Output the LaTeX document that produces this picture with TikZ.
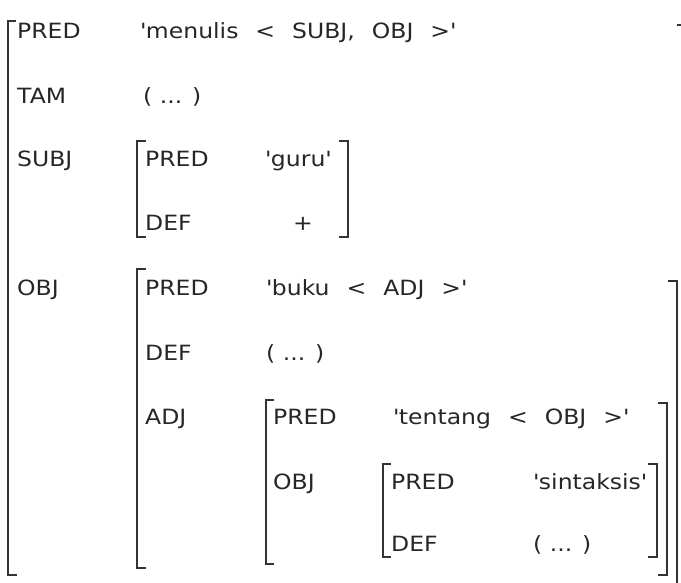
\documentclass[tikz,border=0pt]{standalone}
\usepackage{fontspec}
\setmainfont{DejaVu Sans}[FakeStretch=1.12]
\usepackage{tikz}
\usetikzlibrary{positioning,calc}

\tikzset{
  feat/.style={anchor=base west, inner sep=0pt, text=black!85, font=\fontsize{21}{25}\selectfont},
  brk/.style={draw=black!80, line width=1.5pt},
}
\newcommand{\gp}{\hspace{17pt}}
\newcommand{\qt}{\textquotesingle}

\begin{document}
\begin{tikzpicture}[x=1pt,y=-1pt]
    \useasboundingbox (0,0) rectangle (681,582);
    \clip (0,0) rectangle (681,582);

    % outer f-structure
    \node[feat] (predA) at (17,38) {PRED};
    \node[feat] (predAval) at (140,38) {\qt menulis\gp<\gp SUBJ,\gp OBJ\gp>\qt};
    \node[feat] (tam) at (17,103) {TAM};
    \node[feat] (tamval) at (143,103) {( ... )};
    \node[feat] (subj) at (17,166) {SUBJ};
    \node[feat] (obj) at (17,295) {OBJ};
    \draw[brk] (16,21) -- (8,21) -- (8,575) -- (17,575);
    \draw[brk] (677,25) -- (687,25) -- (687,600);

    % SUBJ
    \node[feat] (predB) at (145,166) {PRED};
    \node[feat] (predBval) at (265,166) {\qt guru\qt};
    \node[feat] (defB) at (145,230) {DEF};
    \node[feat, anchor=base] (defBval) at (303,230) {+};
    \draw[brk] (146,141) -- (137,141) -- (137,237) -- (146,237);
    \draw[brk] (339,141) -- (348,141) -- (348,237) -- (339,237);

    % OBJ
    \node[feat] (predC) at (145,295) {PRED};
    \node[feat] (predCval) at (266,295) {\qt buku\gp<\gp ADJ\gp>\qt};
    \node[feat] (defC) at (145,360) {DEF};
    \node[feat] (defCval) at (266,360) {( ... )};
    \node[feat] (adj) at (145,424) {ADJ};
    \draw[brk] (146,269) -- (137,269) -- (137,568) -- (146,568);
    \draw[brk] (668,281) -- (677,281) -- (677,590) -- (668,590);

    % ADJ
    \node[feat] (predD) at (273,424) {PRED};
    \node[feat] (predDval) at (393,424) {\qt tentang\gp<\gp OBJ\gp>\qt};
    \node[feat] (objD) at (273,489) {OBJ};
    \draw[brk] (274,400) -- (266,400) -- (266,564) -- (274,564);
    \draw[brk] (658,403) -- (667,403) -- (667,575) -- (658,575);

    % OBJ of ADJ
    \node[feat] (predE) at (391,489) {PRED};
    \node[feat] (predEval) at (533,489) {\qt sintaksis\qt};
    \node[feat] (defE) at (391,551) {DEF};
    \node[feat] (defEval) at (533,551) {( ... )};
    \draw[brk] (391,464) -- (383,464) -- (383,557) -- (391,557);
    \draw[brk] (648,464) -- (657,464) -- (657,557) -- (648,557);
\end{tikzpicture}
\end{document}
